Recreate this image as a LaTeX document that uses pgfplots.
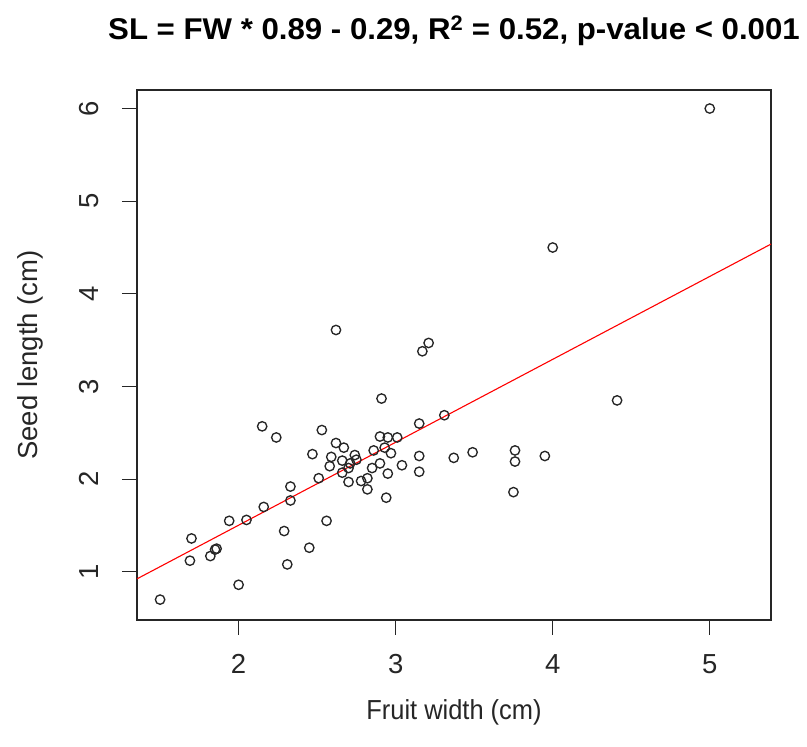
\documentclass[border=0pt]{standalone}
\usepackage{fontspec}
\setmainfont{Liberation Sans}
\usepackage{pgfplots}
\pgfplotsset{compat=1.18}
\usepackage{pgfplotstable}
\pgfplotstableread{
x y
1.50 0.70
2.00 0.86
1.69 1.12
1.70 1.36
1.82 1.17
1.86 1.25
1.85 1.24
1.94 1.55
2.05 1.56
2.16 1.70
2.15 2.57
2.24 2.45
2.29 1.44
2.31 1.08
2.33 1.92
2.33 1.77
2.45 1.26
2.47 2.27
2.51 2.01
2.53 2.53
2.56 1.55
2.59 2.24
2.58 2.14
2.62 3.61
2.62 2.39
2.67 2.34
2.66 2.20
2.66 2.07
2.70 2.12
2.71 2.17
2.74 2.26
2.75 2.21
2.70 1.97
2.78 1.98
2.82 2.01
2.82 1.89
2.85 2.12
2.90 2.17
2.86 2.31
2.90 2.46
2.95 2.45
3.01 2.45
2.93 2.34
2.97 2.28
2.95 2.06
3.04 2.15
2.94 1.80
2.91 2.87
3.15 2.60
3.15 2.25
3.15 2.08
3.17 3.38
3.21 3.47
3.31 2.69
3.37 2.23
3.49 2.29
3.76 2.31
3.76 2.19
3.75 1.86
3.95 2.25
4.41 2.85
4.00 4.50
5.00 6.00
}\seeddata
\begin{document}
\begin{tikzpicture}
\useasboundingbox (0,0) rectangle (807pt,747pt);
\begin{axis}[
  at={(137pt,127pt)}, anchor=south west,
  scale only axis, width=634pt, height=530pt,
  xmin=1.353, xmax=5.39, ymin=0.48, ymax=6.20,
  xtick={2,3,4,5}, ytick={1,2,3,4,5,6},
  tick align=outside, xtick pos=bottom, ytick pos=left,
  major tick length=15pt,
  axis line style={line width=1.3pt, black!85},
  tick style={line width=1.3pt, black!85},
  /pgf/number format/assume math mode=true,
  ticklabel style={font=\fontsize{27.5}{30}\selectfont, text=black!85, inner sep=0pt},
  xticklabel style={anchor=north, yshift=-19pt},
  yticklabel style={rotate=90, anchor=south, yshift=23pt},
  xlabel={\scalebox{0.925}[1]{Fruit width (cm)}},
  ylabel={Seed length (cm)},
  label style={font=\fontsize{27.5}{30}\selectfont, text=black!85},
  xlabel style={at={(axis description cs:0.5,-0.1736)}, anchor=center},
  ylabel style={at={(axis description cs:-0.1688,0.5)}, anchor=center, rotate=0},
  title={\scalebox{1.04}[1]{SL = FW * 0.89 - 0.29, R\textsuperscript{2} = 0.52, p-value < 0.001}},
  title style={font=\bfseries\fontsize{30}{32}\selectfont, at={(axis description cs:0.5,1)}, anchor=base, yshift=44.7pt},
  clip=true,
]
\addplot[only marks, mark=o, mark size=4.7pt, mark options={line width=1.35pt, draw=black!85}] table[x=x,y=y] {\seeddata};
\addplot[red, line width=1.1pt] coordinates {(1.353,0.924) (5.39,4.537)};
\end{axis}
\end{tikzpicture}
\end{document}
